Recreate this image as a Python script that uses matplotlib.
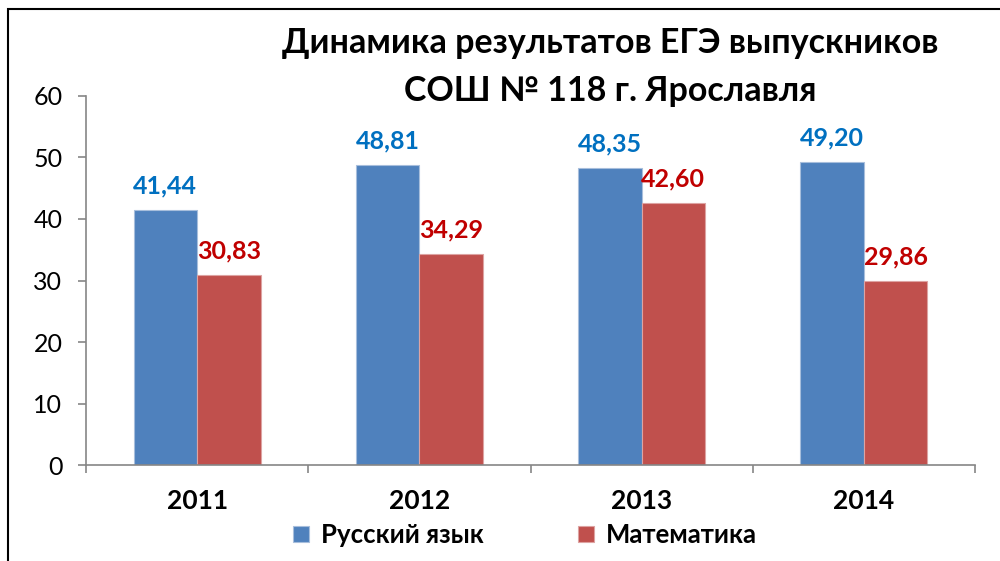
import matplotlib
matplotlib.use("Agg")
import matplotlib.pyplot as plt
import numpy as np
from matplotlib.patches import Rectangle

plt.rcParams["font.family"] = ["Lato", "Open Sans", "DejaVu Sans"]

# ---- data ----
years = ["2011", "2012", "2013", "2014"]
russian = [41.44, 48.81, 48.35, 49.20]
math = [30.83, 34.29, 42.60, 29.86]
series_names = ["Русский язык", "Математика"]
title = "Динамика результатов ЕГЭ выпускников\nСОШ № 118 г. Ярославля"

blue, red = "#4F81BD", "#C0504D"
blue_txt, red_txt = "#0070C0", "#C00000"
gray = "#868686"

fig = plt.figure(figsize=(10, 5.61), dpi=100)
ax = fig.add_axes([0.086, 0.1711, 0.889, 0.6578])

x = np.arange(len(years)) + 0.5
w = 0.286
b1 = ax.bar(x - w / 2, russian, w, color=blue, edgecolor="#A7BEDC", linewidth=0.8,
            label=series_names[0])
b2 = ax.bar(x + w / 2, math, w, color=red, edgecolor="#DDA3A2", linewidth=0.8,
            label=series_names[1])

for bars, vals, c in [(b1, russian, blue_txt), (b2, math, red_txt)]:
    for r, v in zip(bars, vals):
        ax.annotate(f"{v:.2f}".replace(".", ","),
                    (r.get_x() + r.get_width() / 2, v),
                    xytext=(0, 12), textcoords="offset points",
                    ha="center", va="baseline", fontsize=18,
                    fontweight="bold", color=c)

ax.set_xlim(0, 4)
ax.set_ylim(0, 60)
ax.set_yticks(range(0, 61, 10))
ax.set_xticks(range(5))
ax.set_xticklabels([])
ax.set_xticks(x, minor=True)
ax.set_xticklabels(years, minor=True, fontsize=19, fontweight="bold")
ax.tick_params(axis="x", which="major", length=6, color=gray, width=1.2)
ax.tick_params(axis="x", which="minor", length=0, pad=17)
ax.tick_params(axis="y", length=6, color=gray, width=1.2, labelsize=18, pad=11)

for s in ["top", "right"]:
    ax.spines[s].set_visible(False)
for s in ["left", "bottom"]:
    ax.spines[s].set_color(gray)
    ax.spines[s].set_linewidth(1.2)

fig.text(0.61, 1 - 27 / 561, title, ha="center", va="top", fontsize=24.5,
         fontweight="bold", linespacing=1.6)

fig.legend(loc="center", bbox_to_anchor=(0.525, 1 - 535 / 561), ncol=2,
           frameon=False, prop={"size": 18.5, "weight": "bold"},
           handlelength=0.62, handleheight=0.62, handletextpad=0.45,
           columnspacing=3.7)

# outer chart frame (only left and top are visible in the crop)
fig.add_artist(Rectangle((8 / 1000, -0.1), 1.1, 1 - 9 / 561 + 0.1,
                         transform=fig.transFigure, fill=False,
                         edgecolor="black", linewidth=1.5))

fig.savefig("out.png", dpi=100)
